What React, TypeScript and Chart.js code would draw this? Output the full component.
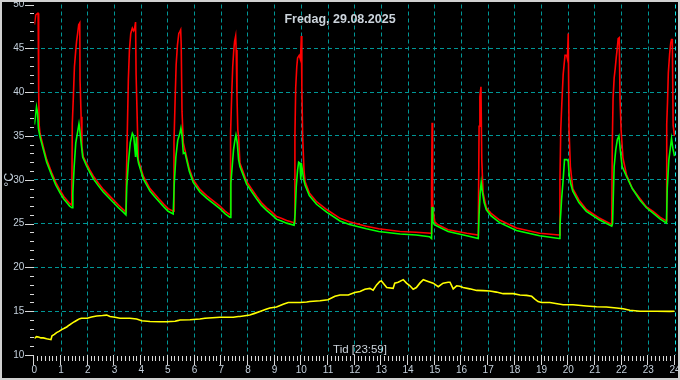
import React, { useEffect, useRef } from "react";
import { Chart, registerables } from "chart.js";

Chart.register(...registerables);

const titleText = "Fredag, 29.08.2025";
const xAxisTitle = "Tid [23:59]";
const yAxisTitle = "°C";

const redHours = [
  0.0, 0.05, 0.12, 0.14, 0.16, 0.18, 0.21, 0.33, 0.46, 0.65, 0.8, 0.96, 1.1, 1.21, 1.32, 1.4,
  1.42, 1.46, 1.5, 1.55, 1.58, 1.62, 1.66, 1.7, 1.71, 1.75, 1.78, 1.83, 1.95, 2.08, 2.21, 2.4, 2.58, 2.77, 2.96, 3.15, 3.33, 3.43,
  3.44, 3.48, 3.52, 3.56, 3.61, 3.67, 3.72, 3.75, 3.79, 3.81, 3.85, 3.89, 4.08, 4.33, 4.5, 4.7, 4.85, 5.01, 5.2,
  5.23, 5.27, 5.31, 5.36, 5.41, 5.45, 5.48, 5.5, 5.53, 5.58, 5.64, 5.8, 5.95, 6.2, 6.45, 6.7, 6.95, 7.15, 7.33,
  7.35, 7.39, 7.43, 7.47, 7.5, 7.54, 7.56, 7.59, 7.62, 7.65, 7.7, 7.95, 8.15, 8.33, 8.5, 8.7, 8.9, 9.07, 9.25, 9.45, 9.73,
  9.76, 9.79, 9.83, 9.86, 9.92, 9.97, 10.0, 10.02, 10.05, 10.1, 10.14, 10.3, 10.57, 10.95, 11.45, 11.8, 12.44, 12.9, 13.7, 14.3, 14.86,
  14.88, 14.9, 14.92, 14.95, 15.0, 15.1, 15.5, 16.2, 16.63,
  16.66, 16.69, 16.73, 16.76, 16.81, 16.93, 17.1, 17.43, 18.06, 18.93, 19.66,
  19.69, 19.72, 19.76, 19.81, 19.85, 19.88, 19.94, 19.97, 20.0, 20.03, 20.08, 20.17, 20.4, 20.68, 21.18, 21.63,
  21.65, 21.68, 21.72, 21.76, 21.8, 21.84, 21.87, 21.91, 21.94, 21.98, 22.05, 22.18, 22.4, 22.68, 22.93, 23.18, 23.45, 23.68,
  23.69, 23.72, 23.75, 23.8, 23.84, 23.87, 23.9, 23.93, 23.98,
];
const redTemps = [
  47.7, 48.8, 49.0, 49.0, 40.0, 36.2, 35.3, 33.8, 32.3, 30.8, 29.7, 28.8, 28.1, 27.7, 27.3, 27.1,
  36.4, 39.5, 42.9, 44.8, 45.8, 46.7, 47.7, 47.9, 41.4, 37.2, 33.8, 32.6, 31.9, 31.1, 30.4, 29.6, 28.9, 28.3, 27.7, 27.1, 26.6, 26.3,
  29.2, 35.3, 41.4, 44.8, 46.7, 47.3, 47.0, 47.2, 48.0, 42.0, 37.2, 32.3, 30.4, 29.0, 28.4, 27.7, 27.2, 26.7, 26.4,
  34.3, 38.9, 43.1, 45.4, 46.7, 46.9, 47.1, 45.4, 37.8, 34.2, 33.4, 31.3, 30.0, 28.9, 28.2, 27.6, 27.0, 26.4, 26.0,
  35.3, 39.5, 42.9, 44.8, 45.8, 46.4, 44.8, 39.5, 35.7, 34.9, 31.9, 29.8, 28.9, 28.1, 27.4, 26.8, 26.3, 25.8, 25.6, 25.35, 25.1,
  34.9, 40.5, 42.9, 43.9, 44.2, 43.7, 46.4, 40.5, 34.9, 31.1, 29.8, 28.5, 27.5, 26.6, 25.6, 25.2, 24.7, 24.4, 24.1, 24.0, 23.9,
  28.7, 36.5, 27.4, 26.3, 25.2, 24.9, 24.3, 23.9, 23.7,
  36.1, 39.5, 40.6, 32.3, 28.5, 26.8, 26.2, 25.4, 24.5, 23.9, 23.7,
  30.0, 35.7, 38.7, 42.0, 43.3, 44.2, 44.2, 43.8, 46.7, 35.7, 31.5, 29.0, 27.7, 26.6, 25.6, 24.9,
  34.0, 39.3, 41.6, 42.7, 44.0, 45.1, 46.1, 46.2, 39.3, 35.7, 32.5, 30.6, 29.0, 27.9, 26.9, 26.4, 25.7, 25.3,
  36.3, 38.9, 42.2, 44.4, 45.6, 46.0, 46.0, 36.2, 35.0,
];

const greenHours = [
  0.0, 0.04, 0.08, 0.12, 0.15, 0.21, 0.33, 0.46, 0.65, 0.8, 0.96, 1.1, 1.21, 1.32, 1.41,
  1.44, 1.49, 1.55, 1.61, 1.67, 1.7, 1.75, 1.81, 1.95, 2.08, 2.21, 2.4, 2.58, 2.77, 2.96, 3.15, 3.33, 3.43,
  3.46, 3.52, 3.59, 3.67, 3.72, 3.79, 3.82, 3.86, 3.9, 4.08, 4.33, 4.5, 4.7, 4.85, 5.01, 5.2,
  5.24, 5.3, 5.37, 5.45, 5.49, 5.53, 5.58, 5.64, 5.8, 5.95, 6.2, 6.45, 6.7, 6.95, 7.15, 7.33,
  7.36, 7.41, 7.46, 7.51, 7.55, 7.6, 7.65, 7.7, 7.95, 8.15, 8.33, 8.5, 8.7, 8.9, 9.07, 9.25, 9.45, 9.73,
  9.77, 9.81, 9.86, 9.9, 9.95, 9.98, 10.0, 10.04, 10.09, 10.14, 10.3, 10.57, 10.95, 11.45, 11.8, 12.44, 12.9, 13.7, 14.3, 14.8, 14.88,
  14.9, 14.93, 14.98, 15.1, 15.5, 16.2, 16.63,
  16.66, 16.7, 16.74, 16.78, 16.85, 16.93, 17.1, 17.43, 18.06, 18.93, 19.66,
  19.69, 19.75, 19.81, 19.86, 19.95, 20.0, 20.04, 20.09, 20.17, 20.4, 20.68, 21.18, 21.63,
  21.66, 21.72, 21.78, 21.84, 21.9, 21.95, 22.02, 22.18, 22.4, 22.68, 22.93, 23.18, 23.45, 23.68,
  23.71, 23.77, 23.87, 23.92, 23.98,
];
const greenTemps = [
  36.3, 37.2, 38.3, 37.6, 35.9, 34.9, 33.5, 32.0, 30.5, 29.4, 28.5, 27.8, 27.4, 27.0, 26.8,
  28.5, 31.5, 34.2, 35.3, 36.4, 35.7, 34.2, 32.6, 31.6, 30.8, 30.1, 29.3, 28.6, 28.0, 27.4, 26.8, 26.3, 26.0,
  29.2, 31.9, 34.2, 35.3, 35.0, 32.6, 34.9, 32.6, 31.9, 30.1, 28.7, 28.1, 27.4, 26.9, 26.4, 26.1,
  29.6, 32.6, 34.5, 35.3, 35.9, 35.1, 33.0, 33.1, 31.0, 29.7, 28.6, 27.9, 27.3, 26.7, 26.1, 25.7,
  29.6, 31.5, 33.4, 34.5, 35.1, 34.2, 32.3, 31.5, 29.5, 28.6, 27.8, 27.1, 26.5, 26.0, 25.5, 25.3, 25.05, 24.8,
  26.2, 29.2, 31.1, 32.0, 31.9, 30.0, 31.9, 31.1, 30.0, 29.4, 28.2, 27.2, 26.3, 25.3, 24.9, 24.4, 24.1, 23.8, 23.7, 23.5, 23.3,
  26.9, 25.2, 24.9, 24.7, 24.1, 23.6, 23.3,
  26.0, 28.5, 29.7, 28.7, 27.4, 26.6, 25.9, 25.1, 24.2, 23.6, 23.3,
  24.7, 27.7, 30.0, 32.3, 32.3, 32.1, 30.4, 29.6, 28.7, 27.4, 26.4, 25.4, 24.7,
  25.0, 31.5, 33.4, 34.6, 35.0, 33.4, 31.5, 30.4, 29.0, 27.7, 26.8, 26.2, 25.5, 25.05,
  29.0, 32.3, 34.7, 33.6, 32.7,
];

const yellowHours = [
  0.0, 0.08, 0.15, 0.25, 0.33, 0.46, 0.62, 0.66, 0.75, 0.83, 0.92, 1.02, 1.12, 1.21, 1.3, 1.4, 1.5, 1.61, 1.7, 1.77,
  1.98, 2.14, 2.33, 2.55, 2.71, 2.83, 3.02, 3.21, 3.58, 3.83, 4.02, 4.33, 4.7, 4.96, 5.27, 5.4, 5.45, 5.83, 6.2, 6.39,
  6.95, 7.45, 7.64, 7.7, 8.07, 8.25, 8.45, 8.65, 8.82, 9.07, 9.32, 9.51, 9.95, 10.2, 10.32, 10.7, 11.0, 11.26, 11.45, 11.76,
  12.0, 12.2, 12.38, 12.57, 12.69, 12.82, 12.94, 13.0, 13.07, 13.2, 13.44, 13.5, 13.63, 13.82, 13.94, 14.07, 14.19, 14.31, 14.44, 14.57,
  14.75, 14.94, 15.13, 15.31, 15.5, 15.57, 15.69, 15.82, 15.94, 16.06, 16.31, 16.57, 16.81, 17.06, 17.31, 17.56, 17.94, 18.19, 18.44, 18.63,
  18.75, 18.87, 19.0, 19.31, 19.81, 20.18, 20.68, 21.06, 21.43, 21.81, 22.06, 22.31, 22.69, 23.31, 23.8, 23.98,
];
const yellowTemps = [
  11.9, 12.1, 12.05, 11.95, 11.95, 11.85, 11.75, 12.2, 12.35, 12.55, 12.7, 12.9, 13.05, 13.2, 13.4, 13.6, 13.8, 14.0, 14.15, 14.2,
  14.2, 14.33, 14.45, 14.5, 14.55, 14.4, 14.3, 14.2, 14.2, 14.1, 13.9, 13.83, 13.8, 13.8, 13.85, 13.95, 14.0, 14.03, 14.1, 14.2,
  14.3, 14.3, 14.4, 14.4, 14.56, 14.75, 14.97, 15.2, 15.36, 15.47, 15.8, 16.0, 16.0, 16.05, 16.1, 16.2, 16.3, 16.7, 16.85, 16.85,
  17.14, 17.25, 17.5, 17.6, 17.4, 18.0, 18.4, 18.45, 18.2, 17.7, 17.6, 18.2, 18.3, 18.6, 18.2, 17.9, 17.5, 17.7, 18.2, 18.6,
  18.4, 18.2, 17.8, 18.2, 18.3, 18.3, 17.55, 17.9, 17.85, 17.7, 17.55, 17.37, 17.35, 17.3, 17.18, 17.0, 17.0, 16.84, 16.8, 16.7,
  16.38, 16.1, 16.0, 16.0, 15.74, 15.74, 15.6, 15.5, 15.47, 15.36, 15.28, 15.1, 15.0, 15.0, 14.98, 15.0,
];

const xMin = 0;
const xMax = 24;
const yMin = 10;
const yMax = 50;

const toPoints = (hs: number[], vs: number[]) => hs.map((h, i) => ({ x: h, y: vs[i] }));

const decorPlugin = {
  id: "decor",
  beforeDraw(chart: any) {
    const { ctx, width, height } = chart;
    ctx.save();
    ctx.fillStyle = "#000000";
    ctx.fillRect(0, 0, width, height);
    ctx.restore();
  },
  afterDraw(chart: any) {
    const { ctx, width, height, chartArea } = chart;
    const xs = chart.scales.x;
    const ys = chart.scales.y;
    ctx.save();
    ctx.strokeStyle = "#d8d8d8";
    ctx.lineWidth = 1;
    ctx.beginPath();
    const left = Math.round(chartArea.left);
    for (let v = yMin; v <= yMax; v++) {
      const py = Math.round(ys.getPixelForValue(v)) + 0.5;
      const x0 = v % 5 === 0 ? left - 9 : left - 4;
      ctx.moveTo(x0, py);
      ctx.lineTo(left, py);
    }
    const bottom = Math.round(chartArea.bottom);
    for (let h = xMin; h <= xMax; h++) {
      const px = Math.round(xs.getPixelForValue(h)) - 0.5;
      ctx.moveTo(px, bottom);
      ctx.lineTo(px, bottom + 10);
      if (h < xMax) {
        for (let k = 1; k <= 6; k++) {
          const mx = Math.round(xs.getPixelForValue(h + k / 7)) - 0.5;
          ctx.moveTo(mx, bottom + 1);
          ctx.lineTo(mx, bottom + 6);
        }
      }
    }
    ctx.stroke();

    ctx.fillStyle = "#ccd4dc";
    ctx.textAlign = "center";
    ctx.textBaseline = "alphabetic";
    ctx.font = "bold 12.5px 'Liberation Sans', Arial, sans-serif";
    ctx.fillText(titleText, width / 2, 22.5);

    ctx.font = "11.5px 'Liberation Sans', Arial, sans-serif";
    ctx.fillText(xAxisTitle, 360, 352.5);

    ctx.strokeStyle = "#d0d0d0";
    ctx.lineWidth = 2;
    ctx.strokeRect(1, 1, width - 2, height - 2);
    ctx.restore();
  },
};

export default function App() {
  const canvasRef = useRef<HTMLCanvasElement | null>(null);

  useEffect(() => {
    document.body.style.margin = "0";
    const canvas = canvasRef.current;
    if (!canvas) return;
    const tickColor = "#c4d0dc";
    const tickFont = { family: "'Liberation Sans', Arial, sans-serif", size: 10 };
    const chart = new Chart(canvas, {
      type: "line",
      data: {
        datasets: [
          {
            label: "green",
            data: toPoints(greenHours, greenTemps),
            borderColor: "#00ff00",
            borderWidth: 1.6,
            pointRadius: 0,
            tension: 0,
            order: 1,
          },
          {
            label: "red",
            data: toPoints(redHours, redTemps),
            borderColor: "#ff0000",
            borderWidth: 1.6,
            pointRadius: 0,
            tension: 0,
            order: 2,
          },
          {
            label: "yellow",
            data: toPoints(yellowHours, yellowTemps),
            borderColor: "#ffff00",
            borderWidth: 1.6,
            pointRadius: 0,
            tension: 0,
            order: 3,
          },
        ],
      },
      options: {
        animation: false,
        responsive: false,
        maintainAspectRatio: false,
        layout: { padding: { top: 4.5, right: 5, left: 0, bottom: 0 } },
        plugins: {
          legend: { display: false },
          tooltip: { enabled: false },
          title: { display: false },
        },
        scales: {
          x: {
            type: "linear",
            min: xMin,
            max: xMax,
            ticks: {
              stepSize: 1,
              autoSkip: false,
              maxRotation: 0,
              color: tickColor,
              font: tickFont,
              padding: 9,
            },
            grid: {
              drawTicks: false,
              lineWidth: 1,
              color: (c: any) => {
                const v = c.tick ? c.tick.value : 0;
                if (v === xMin) return "rgba(0,0,0,0)";
                if (v === xMax) return "#10e8e8";
                return "#009696";
              },
            },
            border: { display: false, dash: [4, 3] },
            afterFit: (s: any) => {
              s.height = 25;
              s.paddingLeft = 0;
              s.paddingRight = 0;
            },
          },
          y: {
            type: "linear",
            min: yMin,
            max: yMax,
            ticks: {
              stepSize: 5,
              color: tickColor,
              font: tickFont,
              padding: 10,
            },
            title: {
              display: true,
              text: yAxisTitle,
              color: tickColor,
              font: { family: "'Liberation Sans', Arial, sans-serif", size: 12.5 },
              padding: { top: 2, bottom: 0 },
            },
            grid: {
              drawTicks: false,
              lineWidth: 1,
              color: (c: any) => {
                const v = c.tick ? c.tick.value : 0;
                if (v === yMin || v === yMax) return "rgba(0,0,0,0)";
                return "#009696";
              },
            },
            border: { display: false, dash: [4, 3] },
            afterFit: (s: any) => {
              s.width = 34.4;
              s.paddingTop = 0;
              s.paddingBottom = 0;
            },
          },
        },
      },
      plugins: [decorPlugin],
    } as any);
    return () => chart.destroy();
  }, []);

  return (
    <div style={{ width: 680, height: 380 }}>
      <canvas ref={canvasRef} width={680} height={380} style={{ display: "block" }} />
    </div>
  );
}
